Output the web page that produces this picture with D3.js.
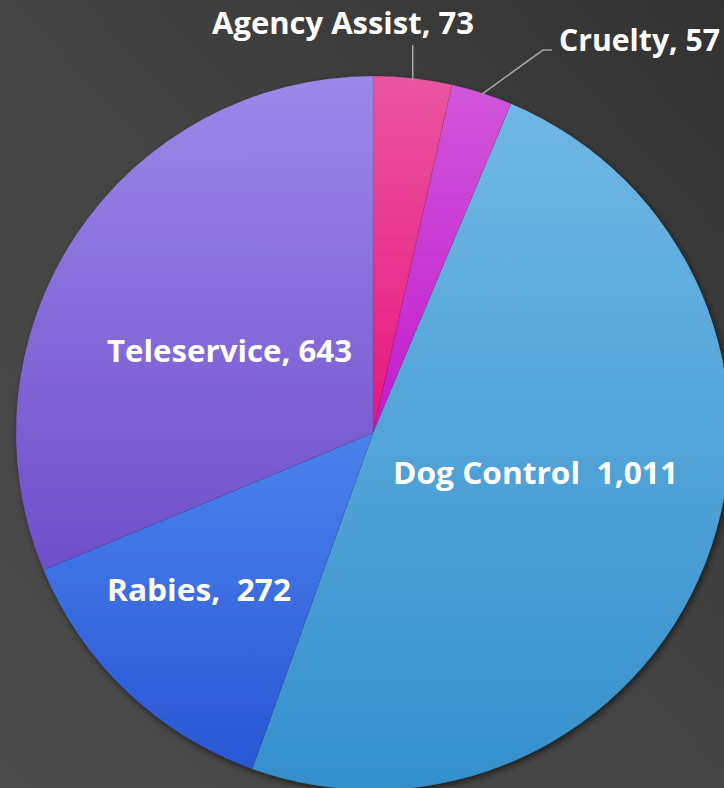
<!DOCTYPE html>
<html><head><meta charset="utf-8">
<script src="https://cdn.jsdelivr.net/npm/d3@7"></script>
<style>html,body{margin:0;padding:0;background:#3c3c3c;overflow:hidden}</style>
</head><body>
<svg id="c" width="724" height="788"></svg>
<script>
const categories = ["Agency Assist", "Cruelty", "Dog Control", "Rabies", "Teleservice"];
const values = [73, 57, 1011, 272, 643];
const labelTexts = ["Agency Assist, 73", "Cruelty, 57", "Dog Control  1,011", "Rabies,  272", "Teleservice, 643"];
const topColors = ["#ea55a0", "#d156da", "#6fb7e4", "#4b82ec", "#9b88e8"];
const bottomColors = ["#e8177d", "#c11bcf", "#3590cc", "#2a57d5", "#6e4ecb"];

const W = 724, H = 788;
const cx = 373, cy = 433, R = 357;
const svg = d3.select("#c");
const defs = svg.append("defs");

const bg = defs.append("linearGradient").attr("id","bg").attr("x1","0").attr("y1","1").attr("x2","1").attr("y2","0");
bg.append("stop").attr("offset","0").attr("stop-color","#4b4b4b");
bg.append("stop").attr("offset","0.5").attr("stop-color","#444444");
bg.append("stop").attr("offset","1").attr("stop-color","#323232");
svg.append("rect").attr("width",W).attr("height",H).attr("fill","url(#bg)");

const f = defs.append("filter").attr("id","sh").attr("x","-10%").attr("y","-10%").attr("width","120%").attr("height","120%");
f.append("feDropShadow").attr("dx",2).attr("dy",3).attr("stdDeviation",3).attr("flood-color","#000").attr("flood-opacity",0.55);

categories.forEach((c,i)=>{
  const g = defs.append("linearGradient").attr("id","g"+i).attr("x1","0").attr("y1","0").attr("x2","0").attr("y2","1");
  g.append("stop").attr("offset","0").attr("stop-color",topColors[i]);
  g.append("stop").attr("offset","1").attr("stop-color",bottomColors[i]);
});

const pie = d3.pie().sort(null).value(d=>d)(values);
const arc = d3.arc().innerRadius(0).outerRadius(R);
const g = svg.append("g").attr("transform",`translate(${cx},${cy})`);
const slices = g.append("g").attr("filter","url(#sh)");
slices.selectAll("path").data(pie).join("path")
  .attr("d",arc)
  .attr("fill",(d,i)=>"url(#g"+i+")")
  .attr("stroke","rgba(0,0,0,0.12)").attr("stroke-width",0.6);

// leader lines for outside labels
const outer = d3.arc().innerRadius(R).outerRadius(R);
function pt(a, r){ return [r*Math.sin(a), -r*Math.cos(a)]; }
const aA = (pie[0].startAngle+pie[0].endAngle)/2;
const pA = pt(aA, R);
g.append("path").attr("d", d3.line()([[pA[0], pA[1]+2],[pA[0], pA[1]-33]]))
  .attr("stroke","#a6a6a6").attr("stroke-width",1.5).attr("fill","none");
const aC = (pie[1].startAngle+pie[1].endAngle)/2;
const pC = pt(aC, R);
g.append("path").attr("d", d3.line()([[pC[0],pC[1]+1],[pC[0]+61,pC[1]-43],[pC[0]+70,pC[1]-43]]))
  .attr("stroke","#a6a6a6").attr("stroke-width",1.5).attr("fill","none");

// label layout (x start, baseline y, width)
const layout = [
  [212, 34, 262],
  [559, 51, 161],
  [393, 484, 285],
  [107, 601, 184],
  [107, 362, 245]
];
svg.append("g").selectAll("text").data(labelTexts).join("text")
  .attr("x",(d,i)=>layout[i][0]).attr("y",(d,i)=>layout[i][1])
  .attr("textLength",(d,i)=>layout[i][2]).attr("lengthAdjust","spacingAndGlyphs")
  .attr("font-family","'Open Sans', 'Noto Sans', sans-serif").attr("font-weight","bold")
  .attr("font-size",31).attr("fill","#ffffff").attr("xml:space","preserve")
  .style("white-space","pre")
  .text(d=>d);
</script>
</body></html>
